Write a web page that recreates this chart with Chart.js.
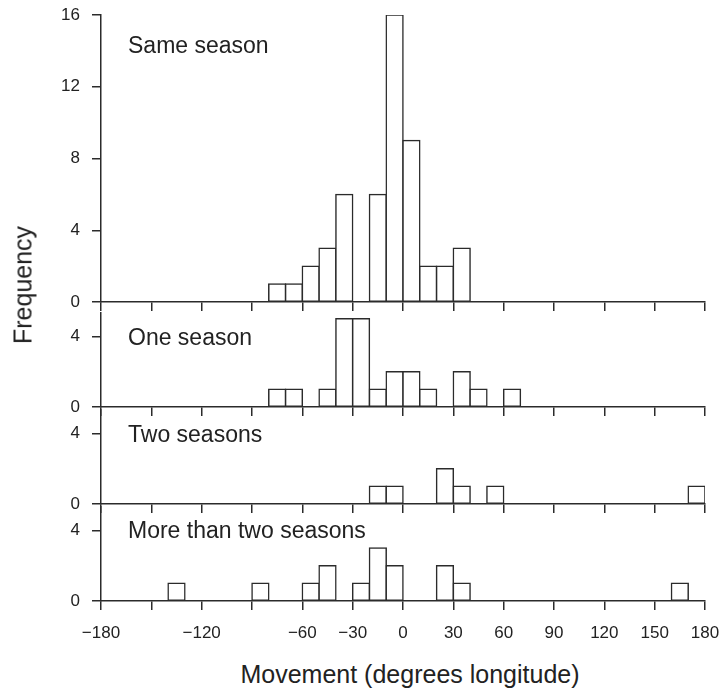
<!DOCTYPE html>
<html>
<head>
<meta charset="utf-8">
<title>Movement histograms</title>
<script src="https://cdn.jsdelivr.net/npm/chart.js@4.4.1/dist/chart.umd.min.js"></script>
<style>
  html, body { margin: 0; padding: 0; background: #fff; }
  #wrap { position: relative; width: 722px; height: 692px; overflow: hidden; font-family: "Liberation Sans", Arial, sans-serif; color: #222; }
  canvas { position: absolute; left: 0; }
  .axis-title { position: absolute; font-size: 25px; line-height: 1; white-space: nowrap; }
  #ytitle { left: 23px; top: 285px; transform: translate(-50%, -50%) rotate(-90deg); }
  #xtitle { left: 410px; top: 662px; transform: translateX(-50%); }
</style>
</head>
<body>
<div id="wrap">
  <canvas id="p1" width="722" height="314" style="top:0px"></canvas>
  <canvas id="p2" width="722" height="118" style="top:301px"></canvas>
  <canvas id="p3" width="722" height="118" style="top:398px"></canvas>
  <canvas id="p4" width="722" height="156" style="top:495px"></canvas>
  <div class="axis-title" id="ytitle">Frequency</div>
  <div class="axis-title" id="xtitle">Movement (degrees longitude)</div>
</div>
<script>
// 10-degree longitude bins, centres from -175 to 175
const binCenters = [-175, -165, -155, -145, -135, -125, -115, -105, -95, -85,
                    -75, -65, -55, -45, -35, -25, -15, -5, 5, 15,
                    25, 35, 45, 55, 65, 75, 85, 95, 105, 115,
                    125, 135, 145, 155, 165, 175];

const panelNames = ['Same season', 'One season', 'Two seasons', 'More than two seasons'];

const sameSeason  = [0,0,0,0,0,0,0,0,0,0, 1,1,2,3,6,0,6,16,9,2, 2,3,0,0,0,0,0,0,0,0, 0,0,0,0,0,0];
const oneSeason   = [0,0,0,0,0,0,0,0,0,0, 1,1,0,1,5,5,1,2,2,1, 0,2,1,0,1,0,0,0,0,0, 0,0,0,0,0,0];
const twoSeasons  = [0,0,0,0,0,0,0,0,0,0, 0,0,0,0,0,0,1,1,0,0, 2,1,0,1,0,0,0,0,0,0, 0,0,0,0,0,1];
const moreSeasons = [0,0,0,0,1,0,0,0,0,1, 0,0,1,2,0,1,3,2,0,0, 2,1,0,0,0,0,0,0,0,0, 0,0,0,0,1,0];

const xTickValues = [-180, -150, -120, -90, -60, -30, 0, 30, 60, 90, 120, 150, 180];
const xTickLabels = ['\u2212180', '', '\u2212120', '', '\u221260', '\u221230', '0', '30', '60', '90', '120', '150', '180'];
const yTicksTop   = [0, 4, 8, 12, 16];
const yTicksSmall = [0, 4];

const INK = '#2b2b2b';
const FONT = '"Liberation Sans", Arial, sans-serif';

// writes the panel name inside the plot area, top-left
const panelLabel = {
  id: 'panelLabel',
  afterDraw(chart, args, opts) {
    const { ctx, chartArea } = chart;
    ctx.save();
    ctx.font = '23px ' + FONT;
    ctx.fillStyle = '#222';
    ctx.textBaseline = 'alphabetic';
    ctx.fillText(opts.text, chartArea.left + opts.dx, chartArea.top + opts.dy);
    ctx.restore();
  }
};

// keep the plot area where the layout padding puts it, labels may overhang
const noLabelPadding = (scale) => {
  scale.paddingTop = 0;
  scale.paddingBottom = 0;
  scale.paddingLeft = 0;
  scale.paddingRight = 0;
};

const makePanel = (canvasId, counts, name, cfg) => {
  const ctx = document.getElementById(canvasId);
  new Chart(ctx, {
    type: 'bar',
    data: {
      datasets: [{
        data: binCenters.map((x, i) => ({ x: x, y: counts[i] > 0 ? counts[i] : null })),
        backgroundColor: '#fff',
        borderColor: INK,
        borderWidth: 1.5,
        borderSkipped: false,
        inflateAmount: 0.75,
        barPercentage: 1.0,
        categoryPercentage: 1.0
      }]
    },
    options: {
      responsive: false,
      animation: false,
      events: [],
      layout: { padding: { top: cfg.padTop, right: 17, bottom: 0, left: 0 } },
      scales: {
        x: {
          type: 'linear',
          min: -180,
          max: 180,
          offset: false,
          grid: { offset: false, drawOnChartArea: false, drawTicks: true, tickLength: 9, color: INK, lineWidth: 1.5 },
          border: { display: true, color: INK, width: 1.5, z: 1 },
          afterBuildTicks: (scale) => { scale.ticks = xTickValues.map(v => ({ value: v })); },
          afterFit: (scale) => { scale.height = cfg.xHeight; noLabelPadding(scale); },
          ticks: {
            display: cfg.showXLabels,
            autoSkip: false,
            maxRotation: 0,
            padding: 13,
            color: '#222',
            font: { family: FONT, size: 17 },
            callback: (v) => xTickLabels[xTickValues.indexOf(v)]
          }
        },
        y: {
          min: 0,
          max: cfg.yMax,
          grid: { drawOnChartArea: false, drawTicks: true, tickLength: 9, color: INK, lineWidth: 1.5 },
          border: { display: true, color: INK, width: 1.5 },
          afterBuildTicks: (scale) => { scale.ticks = cfg.yTicks.map(v => ({ value: v })); },
          afterFit: (scale) => { scale.width = 101; noLabelPadding(scale); },
          ticks: {
            padding: 12,
            color: '#222',
            font: { family: FONT, size: 17 }
          }
        }
      },
      plugins: {
        legend: { display: false },
        tooltip: { enabled: false },
        panelLabel: { text: name, dx: 27, dy: cfg.labelDy }
      }
    },
    plugins: [panelLabel]
  });
};

makePanel('p1', sameSeason, panelNames[0], { padTop: 15, yMax: 16, yTicks: yTicksTop, xHeight: 12, showXLabels: false, labelDy: 38 });
makePanel('p2', oneSeason, panelNames[1], { padTop: 12, yMax: 5.33, yTicks: yTicksSmall, xHeight: 12, showXLabels: false, labelDy: 31.5 });
makePanel('p3', twoSeasons, panelNames[2], { padTop: 12, yMax: 5.33, yTicks: yTicksSmall, xHeight: 12, showXLabels: false, labelDy: 31.5 });
makePanel('p4', moreSeasons, panelNames[3], { padTop: 12, yMax: 5.33, yTicks: yTicksSmall, xHeight: 50, showXLabels: true, labelDy: 31 });
</script>
</body>
</html>
